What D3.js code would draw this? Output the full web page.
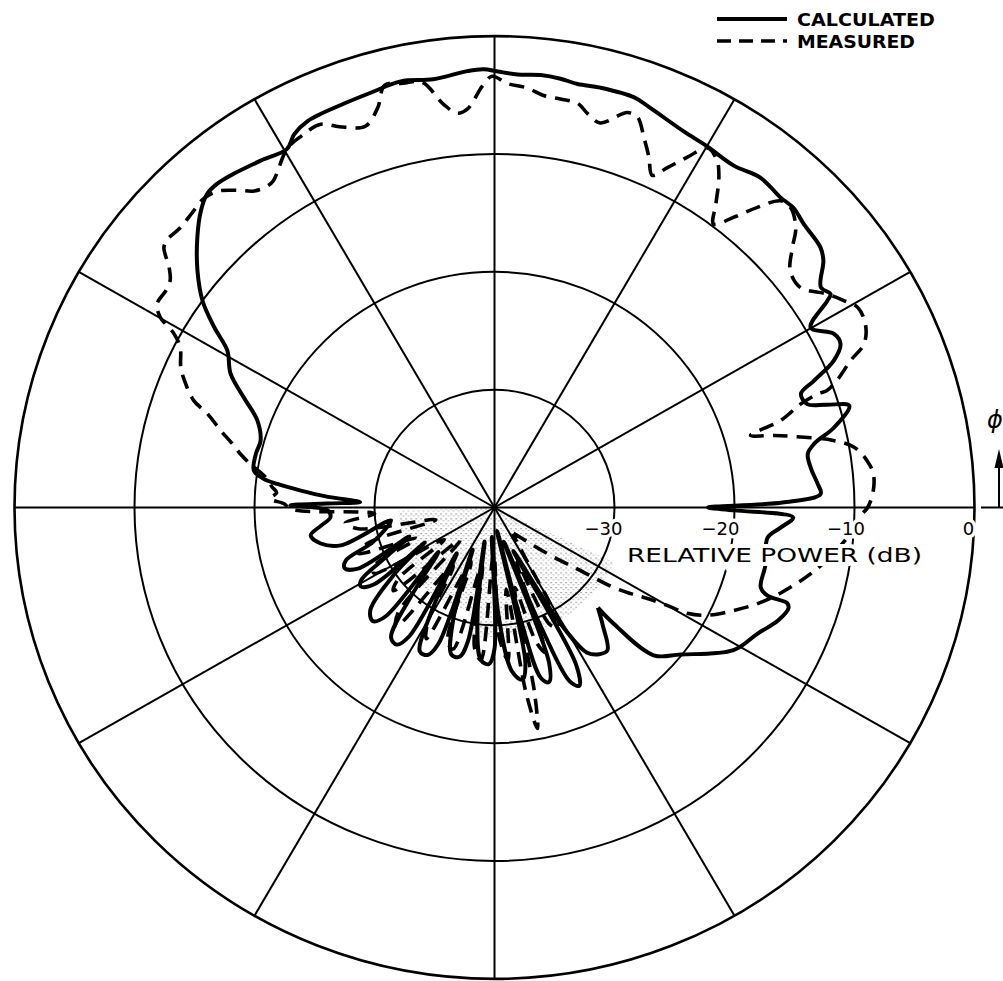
<!DOCTYPE html>
<html>
<head>
<meta charset="utf-8">
<script src="https://cdn.jsdelivr.net/npm/d3@7"></script>
<style>
  html, body { margin: 0; padding: 0; background: #fff; }
  svg { display: block; }
  text { font-family: "DejaVu Sans", "Liberation Sans", sans-serif; fill: #000; }
</style>
</head>
<body>
<svg id="chart" width="1003" height="981"></svg>
<script>
// ---------------- data (angle phi in degrees, counter-clockwise from right; power in dB) ----------------
const ringLevels = [-30, -20, -10, 0];
const ringLabels = ["\u221230", "\u221220", "\u221210", "0"];
const spokeAngles = [0, 30, 60, 90, 120, 150, 180, 210, 240, 270, 300, 330];
const legendLabels = ["CALCULATED", "MEASURED"];
const axisTitle = "RELATIVE POWER (dB)";

const calcPhi = [
  -44.6, -44.8, -43.4, -38.8, -31.3, -26, -22.1, -19.3, -18.4, -18.2, -17, -12.3, -6.4, -4.1, -1.95, -0.7, 0,
  1, 2.4, 4.3, 7, 9.9, 11.5, 13.5, 16.3, 17.5, 18.6, 20.7, 22.0, 23.8, 25.7, 27.5, 30.1, 32.3, 32.9, 34.5,
  37.4, 39.1, 43.0, 45.6, 47.8, 51.6, 55.5, 60.0, 63.7, 69.0, 71.5, 76.1, 79.1, 81.4, 84, 87, 89.6, 91.4,
  93.5, 98, 102.2, 106, 110, 115.4, 117.8, 119.6, 123.5, 127.5, 130.1, 132, 134.2, 137.2, 140.9, 144.2,
  146.8, 149.1, 152.7, 155.9, 159.5, 163.8, 167.1, 171.1, 172.8, 173.7, 174.9, 176.2, 177.7, 178.6, 179.4,
  181, 183.5, 186, 188.8, 191.9, 194.1, 187.2,
  196, 200, 202.5, 204.5, 199,
  205, 209, 211, 213, 207,
  214, 220, 223.5, 225.5, 219,
  227, 232, 235, 237, 231,
  239, 243, 246, 248, 243,
  250, 254, 257, 259, 254,
  261, 265, 268, 270, 265,
  272, 276, 279, 281, 276,
  283, 285, 287, 289, 285,
  291, 293, 295, 297, 293,
  299, 302, 305, 307.8, 312, 315.4
];
const calcDb = [
  -27.9, -26, -21.75, -20.1, -16.7, -15.6, -14.5, -14.05, -14.3, -16.05, -16.8, -16.9, -17.1, -16.1, -15.1, -20, -22.2,
  -16, -12.8, -13.0, -13.4, -13.5, -12.8, -10.9, -9.2, -11, -12.5, -12.7, -11.3, -9.1, -8.0, -8.1, -9.55, -7.2, -6.65, -7.0,
  -5.5, -5.0, -4.75, -4.4, -4.5, -4.3, -4.8, -4.6, -4.4, -3.7, -3.3, -3.3, -3.4, -3.2, -3.1, -3.2, -3.0, -2.8,
  -2.9, -3.3, -3.0, -3.3, -3.5, -3.7, -4.2, -5.0, -4.7, -4.3, -4.1, -4.2, -4.9, -6.25, -8.1, -10.0,
  -12.1, -14.05, -15.25, -17.1, -18.9, -19.7, -19.6, -19.7, -20.6, -21.8, -23.8, -26.0, -28.8, -26, -23.0,
  -26.1, -26.3, -25.5, -24.5, -25.2, -26.8, -31.3,
  -29.5, -26.8, -26.5, -27.5, -32.5,
  -30, -27.3, -27, -28, -33.5,
  -30, -26.5, -26, -27, -34,
  -30, -26, -25.8, -27, -35,
  -30, -26.3, -26.3, -27.5, -36,
  -30, -27, -27, -28.5, -37,
  -31, -27, -26.7, -28, -37.5,
  -31, -26, -25.2, -26.5, -38,
  -30, -25, -24.5, -26, -37,
  -29, -24, -23.3, -25, -36,
  -29, -25.5, -24.8, -24.65, -26.5, -27.9
];

const measPhi = [
  -54, -41.6, -36.7, -34.4, -32.8, -31.2, -30, -29.2, -27.3, -23.7, -20.4, -17, -10.9, -5, -1.3, 0,
  2.6, 5.2, 7.3, 9.7, 11.4, 13.2, 14.7, 16.0, 17.2, 19.0, 19.7, 19.7, 20.7, 22.8, 24.3, 26.7, 29.3, 31.1,
  33.2, 36.2, 39.2, 41.6, 43.4, 45.9, 47.5, 49.3, 51.0, 52.8, 54.4, 56.3, 57.8, 59.8, 61.6, 63.5, 65.0,
  66.6, 68.4, 70.2, 71.7, 74.9, 76.9, 78.6, 81.0, 83.3, 85.6, 88.3, 90.3, 91.6, 93.8, 95.3, 97.1, 99.5,
  102, 104.3, 106, 108.4, 111.8, 114, 117, 119.6, 123.6, 124.8, 126.7, 128.5, 130.7, 132.8, 135.2, 137.8,
  140.1, 141.3, 143.1, 144.5, 146.1, 148.4, 149.9, 151.1, 152.6, 155.6, 157.8, 160.1, 161.6, 164, 166.1,
  167.9, 169.7, 172.3, 174.7, 176, 177.7, 179, 180.5,
  183, 186, 189, 192, 196, 199, 202, 206, 209, 213, 217, 220, 224, 228, 231, 235, 240, 243, 247,
  251, 254, 258, 262, 265, 269, 272, 275, 278, 279.5, 280.8, 282, 284, 287, 289, 292, 295, 298, 301, 304
];
const measDb = [
  -37.3, -34.1, -31, -28, -26.5, -25.1, -23.4, -21.6, -20.05, -18.25, -16.6, -15.1, -12.6, -10.5, -9.5, -8.9,
  -8.4, -8.3, -8.7, -9.6, -11.2, -13.8, -15.9, -17.8, -15.05, -13.0, -11.4, -10.6, -9.5, -7.8, -6.2, -5.4, -5.3, -6.0,
  -6.9, -8.4, -8.2, -6.8, -5.45, -4.55, -4.7, -6.4, -8.3, -9.8, -8.3, -6.3, -5.2, -4.7, -6.2, -7.8, -8.9,
  -7.6, -6.2, -4.8, -4.7, -6.2, -5.7, -5.0, -4.9, -4.8, -4.3, -4.0, -3.4, -4.2, -6.1, -6.4, -5.5, -3.4,
  -3.2, -3.0, -4.7, -5.9, -5.2, -4.4, -4.6, -5.0, -6.7, -6.8, -6.5, -5.6, -4.6, -4.3, -4.5, -4.65,
  -4.5, -4.7, -6.1, -6.8, -7.0, -7.0, -7.8, -9.5, -10.5, -11.3, -12.2, -13.35, -14.8, -16.25, -17.5,
  -18.35, -19.3, -20.75, -21.4, -21.8, -21.3, -22.5, -23,
  -30, -27.5, -28.5, -35, -29, -28, -33, -29, -28.5, -35, -30, -29, -36, -28, -27, -34, -29, -27.5, -35,
  -28, -27.5, -35, -28, -27, -36, -29, -27, -33, -24, -20.9, -24, -33, -28, -27, -35, -29, -28.5, -35, -37.3
];

// sector of the densely plotted side-lobe region that reads as stipple in the original
const stippleSectors = [[-100, -25, -29], [-150, -100, -31], [-178, -150, -32]];

// ---------------- layout ----------------
const svg = d3.select("#chart");
const cx = 494.5, cy = 507.5, yFactor = 0.982;
const R = 480;

const rScale = d3.scaleLinear().domain([-40, 0]).range([0, R]).clamp(true);
// phi (deg, ccw from +x) -> d3 radial angle (rad, cw from 12 o'clock)
const aScale = d3.scaleLinear().domain([0, 360]).range([Math.PI / 2, Math.PI / 2 - 2 * Math.PI]);

svg.append("rect").attr("width", 1003).attr("height", 981).attr("fill", "#fff");

const defs = svg.append("defs");
const pat = defs.append("pattern").attr("id", "stip")
  .attr("width", 5).attr("height", 5).attr("patternUnits", "userSpaceOnUse");
pat.append("rect").attr("x", 1).attr("y", 1).attr("width", 1.2).attr("height", 1.2).attr("fill", "#000");
pat.append("rect").attr("x", 3.5).attr("y", 3.2).attr("width", 1).attr("height", 1).attr("fill", "#000");

const g = svg.append("g").attr("transform", `translate(${cx},${cy}) scale(1,${yFactor})`);

// stipple
const arc = d3.arc();
g.selectAll("path.stip").data(stippleSectors).join("path")
  .attr("class", "stip")
  .attr("d", d => arc({ innerRadius: 4, outerRadius: rScale(d[2]), startAngle: aScale(d[1]), endAngle: aScale(d[0]) }))
  .attr("fill", "url(#stip)").attr("opacity", 0.55);

// rings
g.selectAll("circle.ring").data(ringLevels).join("circle")
  .attr("class", "ring")
  .attr("r", d => rScale(d))
  .attr("fill", "none").attr("stroke", "#000")
  .attr("stroke-width", d => d === 0 ? 2.6 : 2);

// spokes
g.selectAll("line.spoke").data(spokeAngles).join("line")
  .attr("class", "spoke")
  .attr("x1", 0).attr("y1", 0)
  .attr("x2", d => rScale(0) * Math.sin(aScale(d)))
  .attr("y2", d => -rScale(0) * Math.cos(aScale(d)))
  .attr("stroke", "#000").attr("stroke-width", 2);

// curves
const radial = d3.lineRadial()
  .angle(d => aScale(d[0]))
  .radius(d => rScale(d[1]))
  .curve(d3.curveCatmullRom.alpha(0.5));

const calcData = calcPhi.map((p, i) => [p, calcDb[i]]);
const measData = measPhi.map((p, i) => [p, measDb[i]]);

g.append("path").datum(measData)
  .attr("d", radial)
  .attr("fill", "none").attr("stroke", "#000")
  .attr("stroke-width", 3.6)
  .attr("stroke-dasharray", "15 9")
  .attr("stroke-linejoin", "round");

g.append("path").datum(calcData)
  .attr("d", radial)
  .attr("fill", "none").attr("stroke", "#000")
  .attr("stroke-width", 4)
  .attr("stroke-linejoin", "round");

// axis extension to the phi arrow
const xAxisEnd = svg.append("g");
xAxisEnd.append("line")
  .attr("x1", 981).attr("x2", 1003).attr("y1", cy).attr("y2", cy)
  .attr("stroke", "#000").attr("stroke-width", 2);
xAxisEnd.append("line")
  .attr("x1", 999).attr("x2", 999).attr("y1", cy).attr("y2", 462)
  .attr("stroke", "#000").attr("stroke-width", 2);
xAxisEnd.append("path")
  .attr("d", "M999,449 L994.5,468 L1003.5,468 Z")
  .attr("fill", "#000");
xAxisEnd.append("text")
  .attr("x", 995).attr("y", 428)
  .attr("text-anchor", "middle")
  .attr("font-size", 24).attr("font-style", "italic")
  .text("\u03d5");

// ring labels (white halo breaks the arcs like the original lettering)
const labelX = [603.5, 720.5, 846, 968.5];
svg.selectAll("text.rl").data(ringLabels).join("text")
  .attr("class", "rl")
  .attr("x", (d, i) => labelX[i])
  .attr("y", 535)
  .attr("text-anchor", "middle")
  .attr("font-size", 18)
  .attr("stroke", "#fff").attr("stroke-width", 7).attr("paint-order", "stroke")
  .text(d => d);

svg.append("text")
  .attr("x", 627).attr("y", 562)
  .attr("font-size", 19.5)
  .attr("textLength", 295).attr("lengthAdjust", "spacingAndGlyphs")
  .attr("stroke", "#fff").attr("stroke-width", 8).attr("paint-order", "stroke")
  .text(axisTitle);

// legend
const leg = svg.append("g");
leg.append("line").attr("x1", 717).attr("x2", 787).attr("y1", 19).attr("y2", 19)
  .attr("stroke", "#000").attr("stroke-width", 4);
leg.append("line").attr("x1", 717).attr("x2", 787).attr("y1", 41).attr("y2", 41)
  .attr("stroke", "#000").attr("stroke-width", 3.6).attr("stroke-dasharray", "14 8");
leg.selectAll("text").data(legendLabels).join("text")
  .attr("x", 797)
  .attr("y", (d, i) => 26 + i * 22)
  .attr("font-size", 17.5).attr("font-weight", "bold")
  .attr("textLength", (d, i) => i === 0 ? 138 : 118)
  .attr("lengthAdjust", "spacingAndGlyphs")
  .text(d => d);
</script>
</body>
</html>
